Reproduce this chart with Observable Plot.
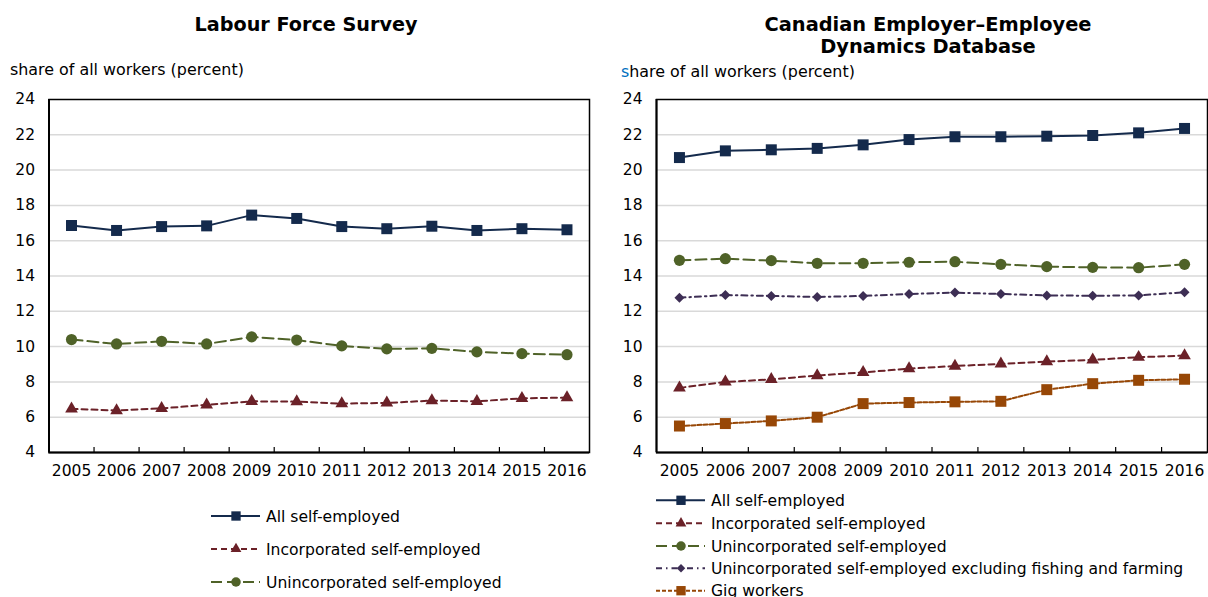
<!DOCTYPE html>
<html>
<head>
<meta charset="utf-8">
<script src="https://cdn.jsdelivr.net/npm/d3@7"></script>
<script src="https://cdn.jsdelivr.net/npm/@observablehq/plot@0.6"></script>
<style>
  html, body { margin: 0; padding: 0; background: #fff; }
  #page { position: relative; width: 1208px; height: 597px; overflow: hidden; background: #fff; font-family: "DejaVu Sans", Verdana, sans-serif; }
  #left, #right { position: absolute; top: 85px; }
  #left { left: 0px; }
  #right { left: 600px; }
  #overlay { position: absolute; left: 0; top: 0; }
</style>
</head>
<body>
<div id="page">
  <div id="left"></div>
  <div id="right"></div>
  <svg id="overlay" width="1208" height="597"></svg>
</div>
<script>
// ---- Data ----
const years = [2005, 2006, 2007, 2008, 2009, 2010, 2011, 2012, 2013, 2014, 2015, 2016];
const yTicks = [4, 6, 8, 10, 12, 14, 16, 18, 20, 22, 24];

// Labour Force Survey
const lfsAll    = [16.86, 16.58, 16.80, 16.84, 17.45, 17.26, 16.80, 16.68, 16.82, 16.58, 16.68, 16.62];
const lfsInc    = [6.47, 6.38, 6.50, 6.70, 6.90, 6.88, 6.77, 6.81, 6.94, 6.90, 7.07, 7.11];
const lfsUninc  = [10.40, 10.15, 10.30, 10.15, 10.55, 10.37, 10.04, 9.87, 9.90, 9.70, 9.60, 9.54];

// Canadian Employer–Employee Dynamics Database
const ceAll      = [20.71, 21.09, 21.15, 21.23, 21.43, 21.73, 21.89, 21.89, 21.92, 21.96, 22.11, 22.36];
const ceInc      = [7.66, 8.00, 8.14, 8.36, 8.54, 8.75, 8.90, 9.02, 9.15, 9.25, 9.40, 9.49];
const ceUninc    = [14.89, 14.98, 14.87, 14.72, 14.72, 14.78, 14.81, 14.66, 14.53, 14.49, 14.47, 14.66];
const ceUnincExc = [12.77, 12.92, 12.87, 12.81, 12.87, 12.98, 13.06, 12.98, 12.90, 12.88, 12.90, 13.08];
const ceGig      = [5.50, 5.64, 5.79, 6.00, 6.77, 6.83, 6.87, 6.90, 7.56, 7.90, 8.09, 8.15];

const titleLeft = "Labour Force Survey";
const titleRight = ["Canadian Employer\u2013Employee", "Dynamics Database"];
const yLabel = "share of all workers (percent)";

const styles = {
  all:      {label: "All self-employed", color: "#142a4c", dash: null, symbol: "square", r: 6.2},
  inc:      {label: "Incorporated self-employed", color: "#6b2128", dash: "6,4", symbol: "triangle", r: 4.7},
  uninc:    {label: "Unincorporated self-employed", color: "#4f6228", dash: "11,5", symbol: "circle", r: 5.6},
  unincExc: {label: "Unincorporated self-employed excluding fishing and farming", color: "#3d2e54", dash: "6,4,1.5,4", symbol: "diamond2", r: 4.5},
  gig:      {label: "Gig workers", color: "#974706", dash: "4,2", symbol: "square", r: 6.2}
};

const leftSeries = [
  {key: "all", values: lfsAll},
  {key: "inc", values: lfsInc},
  {key: "uninc", values: lfsUninc}
];
const rightSeries = [
  {key: "all", values: ceAll},
  {key: "inc", values: ceInc},
  {key: "uninc", values: ceUninc},
  {key: "unincExc", values: ceUnincExc},
  {key: "gig", values: ceGig}
];

const bounds = years.slice(0, -1).map(y => y + 0.5);

function panel(series, width, marginLeft, marginRight) {
  const marks = [
    Plot.ruleY(yTicks.filter(v => v > 4 && v < 24), {stroke: "#d9d9d9", strokeWidth: 1.5}),
    Plot.ruleX(bounds, {insetTop: 348, stroke: "#000", strokeWidth: 1.2}),
    Plot.frame({stroke: "#000", strokeWidth: 1.5}),
    Plot.ruleY([4], {stroke: "#000", strokeWidth: 2}),
    Plot.ruleX([2004.5], {stroke: "#000", strokeWidth: 2}),
    Plot.axisX(years, {tickSize: 0, tickPadding: 12, tickFormat: d => String(d), label: null, fill: "#000", fontSize: 15.5}),
    Plot.axisY(yTicks, {tickSize: 0, tickPadding: 14, label: null, fill: "#000", fontSize: 15.5})
  ];
  for (const s of series.slice().reverse()) {
    const st = styles[s.key];
    const data = years.map((yr, i) => ({year: yr, value: s.values[i]}));
    marks.push(Plot.line(data, {x: "year", y: "value", stroke: st.color, strokeWidth: 2, strokeDasharray: st.dash || undefined}));
    marks.push(Plot.dot(data, {x: "year", y: "value", symbol: st.symbol, r: st.r, fill: st.color, stroke: "none"}));
  }
  return Plot.plot({
    width, height: 400,
    marginTop: 14, marginBottom: 33, marginLeft, marginRight,
    style: {fontFamily: "DejaVu Sans, Verdana, sans-serif", fontSize: "15.5px", color: "#000", background: "transparent", overflow: "visible"},
    x: {type: "linear", domain: [2004.5, 2016.5]},
    y: {domain: [4, 24]},
    marks
  });
}

document.getElementById("left").appendChild(panel(leftSeries, 600, 48.5, 11));
document.getElementById("right").appendChild(panel(rightSeries, 608, 56, 1));

// ---- Titles, axis labels and legends ----
const svg = d3.select("#overlay");
const font = "DejaVu Sans, Verdana, sans-serif";

svg.append("text").attr("x", 306).attr("y", 31).attr("text-anchor", "middle")
  .attr("font-family", font).attr("font-weight", "bold").attr("font-size", 19.2).text(titleLeft);
titleRight.forEach((t, i) => {
  svg.append("text").attr("x", 928).attr("y", 30.5 + i * 22.7).attr("text-anchor", "middle")
    .attr("font-family", font).attr("font-weight", "bold").attr("font-size", 19.4).text(t);
});

svg.append("text").attr("x", 10).attr("y", 75).attr("font-family", font).attr("font-size", 15.9).text(yLabel);
const yl2 = svg.append("text").attr("x", 621).attr("y", 77).attr("font-family", font).attr("font-size", 15.9);
yl2.append("tspan").attr("fill", "#0070c0").text(yLabel.slice(0, 1));
yl2.append("tspan").attr("fill", "#000").text(yLabel.slice(1));

function symbolPath(name, r) {
  const map = {square: d3.symbolSquare, triangle: d3.symbolTriangle, circle: d3.symbolCircle, diamond2: d3.symbolDiamond2};
  return d3.symbol(map[name], Math.PI * r * r)();
}

function legend(keys, x0, x1, xm, xt, ys) {
  keys.forEach((k, i) => {
    const st = styles[k];
    const y = ys[i];
    const g = svg.append("g");
    g.append("line").attr("x1", x0).attr("x2", x1).attr("y1", y).attr("y2", y)
      .attr("stroke", st.color).attr("stroke-width", 2)
      .attr("stroke-dasharray", st.dash || null);
    g.append("path").attr("d", symbolPath(st.symbol, st.r * 0.85)).attr("transform", `translate(${xm},${y})`).attr("fill", st.color);
    g.append("text").attr("x", xt).attr("y", y + 5.6).attr("font-family", font).attr("font-size", 15.6).attr("fill", "#000").text(st.label);
  });
}
legend(["all", "inc", "uninc"], 211, 260, 236, 266, [516, 549, 582]);
legend(["all", "inc", "uninc", "unincExc", "gig"], 656, 705, 681, 711, [500.3, 523.3, 546, 568.3, 590.7]);
</script>
</body>
</html>
